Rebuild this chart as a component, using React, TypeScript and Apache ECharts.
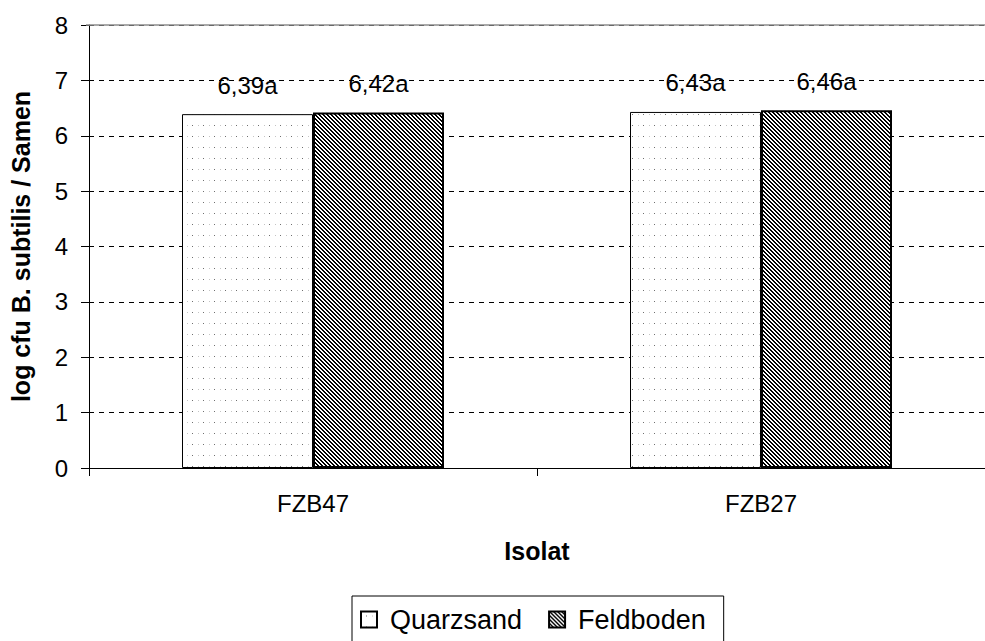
import React, { useEffect, useRef } from "react";
import * as echarts from "echarts";

const categories = ["FZB47", "FZB27"];
const seriesNames = ["Quarzsand", "Feldboden"];
const quarzsand = [6.39, 6.43];
const feldboden = [6.42, 6.46];
const quarzLetters = ["a", "a"];
const feldLetters = ["a", "a"];
const yTicks = [0, 1, 2, 3, 4, 5, 6, 7, 8];

function makeDots(): HTMLCanvasElement {
  const c = document.createElement("canvas");
  c.width = 11;
  c.height = 11;
  const ctx = c.getContext("2d")!;
  ctx.fillStyle = "#ffffff";
  ctx.fillRect(0, 0, 11, 11);
  ctx.fillStyle = "#6f6f6f";
  ctx.fillRect(5, 4, 1, 1);
  ctx.fillStyle = "#c4c4c4";
  ctx.fillRect(0, 4, 1, 1);
  return c;
}

function makeHatch(): HTMLCanvasElement {
  const c = document.createElement("canvas");
  c.width = 4;
  c.height = 4;
  const ctx = c.getContext("2d")!;
  ctx.fillStyle = "#ffffff";
  ctx.fillRect(0, 0, 4, 4);
  ctx.fillStyle = "#000000";
  for (let x = 0; x < 4; x++) {
    for (let y = 0; y < 4; y++) {
      const d = (((x - y) % 4) + 4) % 4;
      if (d === 0 || d === 1) ctx.fillRect(x, y, 1, 1);
    }
  }
  return c;
}

export default function App() {
  const ref = useRef<HTMLDivElement>(null);
  useEffect(() => {
    if (!ref.current) return;
    const chart = echarts.init(ref.current, undefined, { renderer: "svg" });
    const dots = { image: makeDots(), repeat: "repeat" } as any;
    const hatch = { image: makeHatch(), repeat: "repeat" } as any;
    const font = "Liberation Sans, Arial, sans-serif";
    const fmt = (letters: string[]) => (p: any) =>
      String(p.value.toFixed(2)).replace(".", ",") + letters[p.dataIndex];
    chart.setOption({
      animation: false,
      textStyle: { fontFamily: font },
      grid: { left: 85, right: -6, top: 25, bottom: 173, containLabel: false },
      legend: {
        data: seriesNames,
        top: 596,
        left: 352,
        orient: "horizontal",
        icon: "rect",
        itemWidth: 16,
        itemHeight: 16,
        itemGap: 26,
        padding: [10, 18, 12, 8],
        borderColor: "#000",
        borderWidth: 1,
        textStyle: { fontSize: 27, color: "#000", fontFamily: font, padding: [0, 0, 0, 8] },
        selectedMode: false,
      },
      xAxis: {
        type: "category",
        data: categories,
        name: "Isolat",
        nameLocation: "middle",
        nameGap: 70,
        nameTextStyle: { fontSize: 25, fontWeight: "bold", color: "#000" },
        axisLine: { lineStyle: { color: "#000", width: 1 } },
        axisTick: { show: true, length: 8, lineStyle: { color: "#000" } },
        axisLabel: { fontSize: 24, color: "#000", margin: 23 },
      },
      yAxis: {
        type: "value",
        min: 0,
        max: 8,
        interval: 1,
        name: "log cfu B. subtilis / Samen",
        nameLocation: "middle",
        nameGap: 56,
        nameTextStyle: { fontSize: 25, fontWeight: "bold", color: "#000" },
        axisLine: { show: true, lineStyle: { color: "#000", width: 1 } },
        axisTick: { show: true, length: 8, lineStyle: { color: "#000" } },
        axisLabel: {
          fontSize: 24,
          color: "#000",
          margin: 21,
          formatter: (v: number) => (yTicks.includes(v) ? String(v) : ""),
        },
        splitLine: {
          show: true,
          lineStyle: { color: "#000", type: [5, 5], width: 1 },
        },
      },
      series: [
        {
          name: seriesNames[0],
          type: "bar",
          data: quarzsand,
          barWidth: 131,
          barGap: "0%",
          itemStyle: { color: dots, borderColor: "#000", borderWidth: 1 },
          label: {
            show: true,
            position: "top",
            distance: 17,
            fontSize: 24,
            color: "#000",
            formatter: fmt(quarzLetters),
          },
        },
        {
          name: seriesNames[1],
          type: "bar",
          data: feldboden,
          barWidth: 131,
          barGap: "0%",
          itemStyle: { color: hatch, borderColor: "#000", borderWidth: 2 },
          label: {
            show: true,
            position: "top",
            distance: 17,
            fontSize: 24,
            color: "#000",
            formatter: fmt(feldLetters),
          },
        },
      ],
      graphic: [
        {
          type: "line",
          shape: { x1: 86, y1: 25, x2: 985, y2: 25 },
          style: { stroke: "#8c8c8c", lineWidth: 1.5 },
          z: 10,
        },
      ],
    });
    return () => chart.dispose();
  }, []);
  return (
    <div
      ref={ref}
      style={{ position: "fixed", left: 0, top: 0, width: 985, height: 641, background: "#fff" }}
    />
  );
}
